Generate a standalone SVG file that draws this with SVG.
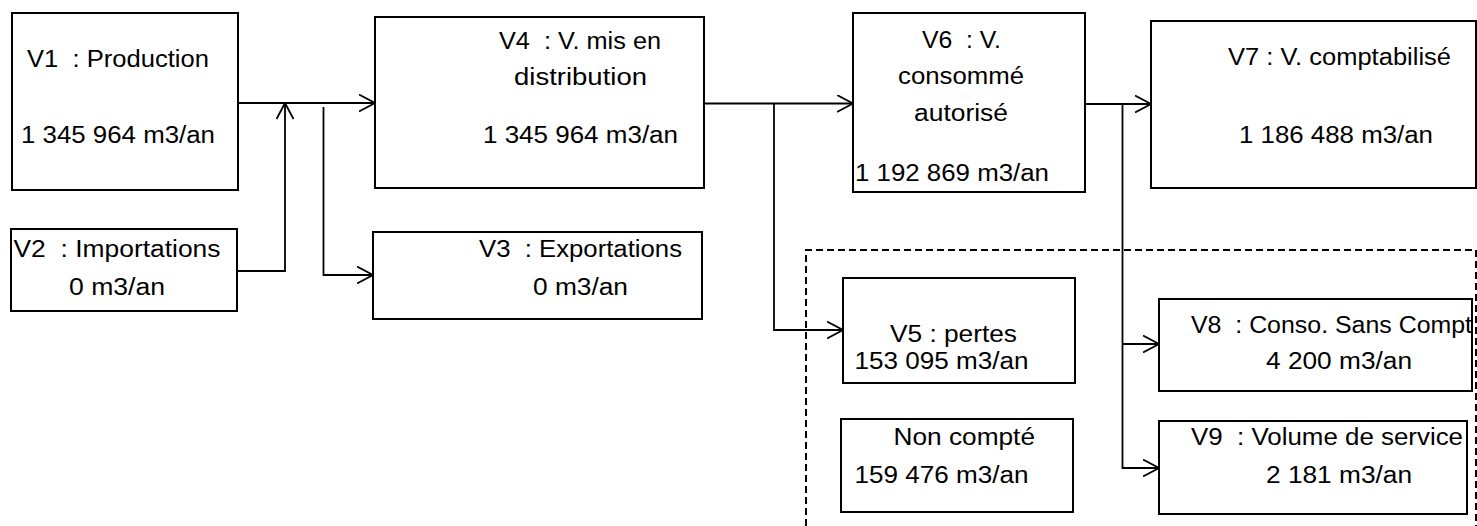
<svg xmlns="http://www.w3.org/2000/svg" width="1477" height="526" viewBox="0 0 1477 526">
<style>
.box{fill:#fff;stroke:#000;stroke-width:2}
.t{font-family:"Liberation Sans",Arial,sans-serif;font-size:23px;fill:#000;white-space:pre}
.c{fill:none;stroke:#000;stroke-width:1.8}
.dash{fill:none;stroke:#000;stroke-width:2;stroke-dasharray:7 4}
</style>
<defs>
<marker id="arr" viewBox="0 0 17 18" refX="16.5" refY="9" markerWidth="17" markerHeight="18" markerUnits="userSpaceOnUse" orient="auto">
<path d="M0.5,0.5 L16.5,9 L0.5,17.5" fill="none" stroke="#000" stroke-width="1.8"/>
</marker>
</defs>
<rect width="1477" height="526" fill="#fff"/>
<path class="dash" d="M806,526 V250 H1476 V526"/>
<g id="connectors">
<path class="c" d="M238,103 H375" marker-end="url(#arr)"/>
<path class="c" d="M237,271 H285 V103" marker-end="url(#arr)"/>
<path class="c" d="M323.5,107 V275 H373" marker-end="url(#arr)"/>
<path class="c" d="M704,103.5 H853" marker-end="url(#arr)"/>
<path class="c" d="M774,103.5 V330 H843" marker-end="url(#arr)"/>
<path class="c" d="M1085,104 H1151" marker-end="url(#arr)"/>
<path class="c" d="M1122.5,104 V468 H1159" marker-end="url(#arr)"/>
<path class="c" d="M1122.5,344 H1159" marker-end="url(#arr)"/>
</g>
<g id="V1">
<rect class="box" x="12" y="13" width="226" height="177"/>
<text class="t" x="27" y="67" textLength="182" lengthAdjust="spacingAndGlyphs">V1  : Production</text>
<text class="t" x="21" y="143" textLength="194" lengthAdjust="spacingAndGlyphs">1 345 964 m3/an</text>
</g>
<g id="V2">
<rect class="box" x="11" y="229" width="226" height="82"/>
<text class="t" x="13.5" y="257" textLength="207" lengthAdjust="spacingAndGlyphs">V2  : Importations</text>
<text class="t" x="69" y="295" textLength="96" lengthAdjust="spacingAndGlyphs">0 m3/an</text>
</g>
<g id="V4">
<rect class="box" x="375" y="17" width="329" height="171"/>
<text class="t" x="499" y="48.5" textLength="162" lengthAdjust="spacingAndGlyphs">V4  : V. mis en</text>
<text class="t" x="514" y="85" textLength="133" lengthAdjust="spacingAndGlyphs">distribution</text>
<text class="t" x="483" y="143" textLength="195" lengthAdjust="spacingAndGlyphs">1 345 964 m3/an</text>
</g>
<g id="V3">
<rect class="box" x="373" y="232" width="329" height="87"/>
<text class="t" x="479" y="257" textLength="203" lengthAdjust="spacingAndGlyphs">V3  : Exportations</text>
<text class="t" x="533" y="295" textLength="95" lengthAdjust="spacingAndGlyphs">0 m3/an</text>
</g>
<g id="V6">
<rect class="box" x="853" y="13" width="232" height="179"/>
<text class="t" x="922" y="48" textLength="79" lengthAdjust="spacingAndGlyphs">V6  : V.</text>
<text class="t" x="898" y="83.5" textLength="126" lengthAdjust="spacingAndGlyphs">consommé</text>
<text class="t" x="914" y="120.5" textLength="94" lengthAdjust="spacingAndGlyphs">autorisé</text>
<text class="t" x="855" y="181" textLength="194" lengthAdjust="spacingAndGlyphs">1 192 869 m3/an</text>
</g>
<g id="V7">
<rect class="box" x="1151" y="21" width="325" height="167"/>
<text class="t" x="1228" y="65" textLength="223" lengthAdjust="spacingAndGlyphs">V7 : V. comptabilisé</text>
<text class="t" x="1239" y="143" textLength="194" lengthAdjust="spacingAndGlyphs">1 186 488 m3/an</text>
</g>
<g id="V5">
<rect class="box" x="843" y="278" width="232" height="105"/>
<text class="t" x="890" y="341.5" textLength="127" lengthAdjust="spacingAndGlyphs">V5 : pertes</text>
<text class="t" x="854.5" y="368.5" textLength="174" lengthAdjust="spacingAndGlyphs">153 095 m3/an</text>
</g>
<g id="NonCompte">
<rect class="box" x="841" y="419" width="232" height="93"/>
<text class="t" x="893.5" y="445" textLength="141.5" lengthAdjust="spacingAndGlyphs">Non compté</text>
<text class="t" x="854.5" y="482.5" textLength="174" lengthAdjust="spacingAndGlyphs">159 476 m3/an</text>
</g>
<g id="V8">
<rect class="box" x="1159" y="299" width="313" height="92"/>
<text class="t" x="1191" y="332.5" textLength="281" lengthAdjust="spacingAndGlyphs">V8  : Conso. Sans Compt</text>
<text class="t" x="1266" y="368.5" textLength="146" lengthAdjust="spacingAndGlyphs">4 200 m3/an</text>
</g>
<g id="V9">
<rect class="box" x="1159" y="421" width="308" height="93"/>
<text class="t" x="1191" y="445" textLength="272" lengthAdjust="spacingAndGlyphs">V9  : Volume de service</text>
<text class="t" x="1266" y="482.5" textLength="146" lengthAdjust="spacingAndGlyphs">2 181 m3/an</text>
</g>
</svg>
